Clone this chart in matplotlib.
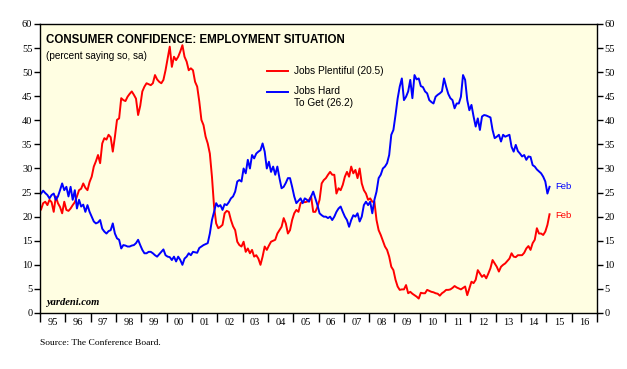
import numpy as np
import matplotlib.pyplot as plt

# monthly readings, Jan 1995 - Feb 2015 (percent saying so)
jobs_plentiful = [
    [21.5, 22.8, 23.1, 22.4, 23.5, 23.0, 21.0, 24.2, 22.8, 22.0, 20.7, 23.1],  # 95
    [21.4, 21.2, 21.7, 22.4, 23.0, 24.2, 25.5, 25.8, 26.9, 26.0, 25.5, 27.2],  # 96
    [28.3, 30.4, 31.5, 32.8, 31.1, 35.2, 36.3, 36.0, 37.0, 36.5, 33.5, 36.6],  # 97
    [40.1, 40.4, 44.6, 44.2, 44.0, 44.9, 45.5, 46.0, 45.3, 44.5, 41.1, 43.0],  # 98
    [46.0, 47.0, 47.7, 47.5, 47.3, 47.7, 49.4, 48.5, 48.0, 47.7, 48.4, 50.4],  # 99
    [52.9, 55.3, 51.1, 53.2, 52.5, 53.2, 54.3, 55.6, 53.2, 52.2, 50.4, 50.8],  # 00
    [50.4, 48.0, 47.0, 43.9, 40.1, 39.0, 36.6, 35.2, 33.1, 28.3, 22.1, 18.6],  # 01
    [17.6, 17.9, 18.3, 20.7, 21.2, 21.0, 19.3, 18.0, 17.2, 14.8, 14.1, 13.8],  # 02
    [14.8, 12.7, 13.4, 12.4, 13.1, 11.7, 12.0, 11.3, 10.0, 11.7, 13.8, 13.1],  # 03
    [14.0, 14.8, 15.0, 15.2, 16.5, 17.2, 17.9, 19.7, 18.6, 16.5, 17.2, 19.3],  # 04
    [20.7, 21.4, 21.0, 22.8, 23.1, 23.0, 23.1, 23.5, 24.2, 21.0, 21.0, 22.0],  # 05
    [23.5, 26.9, 27.6, 28.0, 28.7, 29.3, 28.7, 28.7, 24.8, 25.9, 25.5, 26.6],  # 06
    [28.3, 29.3, 28.3, 30.4, 29.0, 29.7, 28.0, 30.0, 26.9, 25.5, 24.8, 23.5],  # 07
    [23.8, 23.1, 23.1, 19.3, 17.2, 16.2, 15.0, 13.8, 13.1, 11.7, 9.6, 8.9],    # 08
    [6.9, 5.5, 4.8, 4.9, 4.9, 5.8, 4.1, 4.4, 4.0, 3.7, 3.4, 3.0],              # 09
    [4.2, 4.1, 4.1, 4.8, 4.6, 4.4, 4.3, 4.1, 4.0, 3.6, 4.1, 4.4],              # 10
    [4.8, 4.8, 4.9, 5.2, 5.6, 5.3, 5.1, 4.9, 5.2, 5.5, 3.7, 5.1],              # 11
    [6.5, 6.2, 6.9, 8.9, 8.2, 7.5, 7.9, 7.2, 8.2, 9.3, 11.0, 10.3],            # 12
    [9.6, 8.6, 9.6, 10.0, 10.3, 10.8, 11.3, 12.4, 11.7, 11.6, 12.0, 12.0],     # 13
    [12.0, 12.5, 13.4, 13.9, 13.1, 14.5, 15.2, 17.6, 16.5, 16.5, 16.2, 16.9],  # 14
    [18.3, 20.5],                                                              # 15
]

jobs_hard = [
    [24.8, 25.4, 24.9, 24.5, 23.8, 24.5, 24.8, 23.5, 24.2, 25.5, 26.9, 25.5],  # 95
    [26.2, 24.2, 26.2, 23.5, 25.5, 21.7, 23.5, 22.1, 22.5, 21.0, 22.4, 21.0],  # 96
    [20.0, 19.0, 18.6, 18.8, 19.3, 17.5, 16.9, 16.5, 17.0, 17.2, 18.6, 16.5],  # 97
    [15.5, 15.2, 13.4, 14.1, 14.0, 13.8, 13.8, 14.0, 14.1, 14.5, 15.2, 14.1],  # 98
    [13.1, 12.4, 12.4, 12.7, 12.7, 12.4, 12.0, 11.7, 12.2, 12.7, 13.2, 12.0],  # 99
    [11.7, 11.6, 11.0, 11.7, 10.7, 11.7, 11.0, 10.0, 11.3, 11.7, 12.4, 12.0],  # 00
    [12.7, 12.6, 12.5, 13.5, 13.8, 14.1, 14.3, 14.5, 16.5, 19.3, 21.0, 22.8],  # 01
    [22.1, 22.4, 21.4, 22.6, 22.4, 23.0, 23.8, 24.2, 25.2, 27.3, 27.6, 27.3],  # 02
    [30.0, 29.0, 31.8, 30.0, 32.8, 32.1, 33.1, 33.5, 33.8, 35.2, 33.5, 30.0],  # 03
    [31.4, 29.3, 30.4, 28.7, 30.4, 28.0, 25.9, 26.2, 27.0, 28.0, 28.0, 26.2],  # 04
    [24.2, 22.8, 23.3, 23.8, 22.8, 23.8, 23.5, 23.1, 24.2, 25.2, 23.8, 22.4],  # 05
    [20.7, 20.3, 20.0, 20.0, 19.7, 20.0, 19.3, 20.0, 21.0, 21.7, 22.1, 21.0],  # 06
    [20.0, 19.3, 17.9, 19.3, 20.3, 20.0, 20.7, 19.0, 20.0, 22.4, 23.1, 22.4],  # 07
    [23.1, 20.7, 23.5, 25.2, 28.0, 28.7, 30.0, 30.4, 31.1, 32.8, 37.0, 38.0],  # 08
    [41.1, 44.5, 47.0, 48.7, 44.2, 44.9, 46.0, 48.4, 44.6, 49.4, 48.5, 48.7],  # 09
    [47.1, 46.9, 46.0, 45.6, 44.2, 43.8, 43.5, 44.9, 45.3, 45.6, 46.0, 48.7],  # 10
    [47.0, 45.5, 44.6, 44.2, 42.5, 43.5, 43.5, 44.9, 49.4, 48.4, 44.2, 42.1],  # 11
    [43.2, 40.8, 38.7, 40.4, 38.0, 40.8, 41.1, 41.0, 40.8, 40.6, 38.0, 36.3],  # 12
    [36.6, 37.0, 35.6, 37.0, 36.6, 36.8, 37.0, 34.5, 33.5, 34.9, 33.6, 33.1],  # 13
    [32.5, 32.8, 31.8, 32.5, 32.4, 30.7, 30.4, 29.8, 29.4, 29.0, 28.3, 27.3],  # 14
    [24.8, 26.2],                                                              # 15
]

year_labels = ['95', '96', '97', '98', '99', '00', '01', '02', '03', '04', '05',
               '06', '07', '08', '09', '10', '11', '12', '13', '14', '15', '16']

plentiful = np.concatenate([np.array(r) for r in jobs_plentiful])
hard = np.concatenate([np.array(r) for r in jobs_hard])
dates = 1995 + (np.arange(len(plentiful)) + 0.5) / 12.0

serif = 'Liberation Serif'
sans = 'Liberation Sans'

fig = plt.figure(figsize=(6.27, 3.69), dpi=100)
ax = fig.add_axes([40 / 627, 56 / 369, 557 / 627, 289 / 369])
ax.set_facecolor('#fffee2')

ax.plot(dates, plentiful, color='#ff0000', lw=1.4, label='Jobs Plentiful (%.1f)' % plentiful[-1])
ax.plot(dates, hard, color='#0000ff', lw=1.4, label='Jobs Hard\nTo Get (%.1f)' % hard[-1])

# "Feb" tags at the latest point
ax.annotate('Feb', (dates[-1], hard[-1]), xytext=(4, 0), textcoords='offset points',
            color='#0000ff', fontsize=6.8, family=sans, va='center')
ax.annotate('Feb', (dates[-1], plentiful[-1]), xytext=(4, -1), textcoords='offset points',
            color='#ff0000', fontsize=6.8, family=sans, va='center')

ax.set_xlim(1995, 2017)
ax.set_ylim(0, 60)

# years: tick marks at year boundaries, labels in the middle
ax.set_xticks(np.arange(1995, 2018))
ax.set_xticklabels([])
ax.set_xticks(np.arange(1995, 2017) + 0.5, minor=True)
ax.set_xticklabels(year_labels, minor=True, family=serif, fontsize=7.5)
ax.tick_params(axis='x', which='major', direction='out', length=6.5, width=1)
ax.tick_params(axis='x', which='minor', length=0, pad=3.5)

ax.set_yticks(np.arange(0, 61, 5))
ax.set_yticklabels([str(v) for v in range(0, 61, 5)], family=serif, fontsize=7.5)
ax.tick_params(axis='y', direction='out', length=4, width=1, right=True, labelright=True, pad=1.5)

for s in ax.spines.values():
    s.set_linewidth(1)

ax.text(0.011, 0.965, 'CONSUMER CONFIDENCE: EMPLOYMENT SITUATION', transform=ax.transAxes,
        family=sans, fontweight='bold', fontsize=8.3, va='top')
ax.text(0.011, 0.905, '(percent saying so, sa)', transform=ax.transAxes,
        family=sans, fontsize=7.2, va='top')
ax.text(0.011, 0.02, 'yardeni.com', transform=ax.transAxes, family=serif,
        fontweight='bold', style='italic', fontsize=7.6, va='bottom')

leg = ax.legend(loc='upper left', bbox_to_anchor=(0.392, 0.885), frameon=False,
                prop={'family': sans, 'size': 7.3}, handlelength=2.0, handletextpad=0.6,
                labelspacing=1.0)
# put the blue key level with the first line of its two-line label
blue_key = leg.get_lines()[1]
blue_key.set_ydata(np.asarray(blue_key.get_ydata()) + 4.2)

fig.text(40 / 627, 1 - 343 / 369, 'Source: The Conference Board.', family=serif,
         fontsize=6.8, va='center')

fig.savefig('out.png', dpi=100, facecolor='white')
